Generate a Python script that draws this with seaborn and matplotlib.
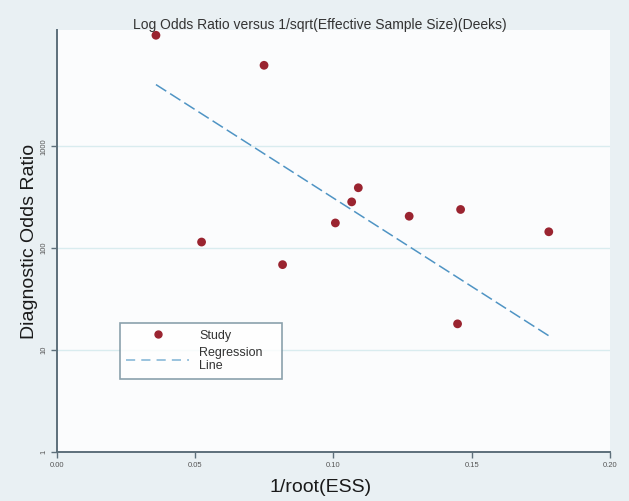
import numpy as np
import pandas as pd
import matplotlib
matplotlib.use("Agg")
from matplotlib import pyplot as plt
from matplotlib.lines import Line2D
import seaborn as sns

# values
inv_root_ess = [0.0358, 0.0749, 0.0523, 0.0816, 0.1007, 0.1066, 0.1090,
                0.1274, 0.1460, 0.1779, 0.1449]
diag_odds_ratio = [12300, 6240, 115, 69, 177, 285, 392, 206, 240, 145, 18.1]

# regression (log10 DOR on 1/root(ESS)) as drawn in the reference
reg_intercept = 4.227
reg_slope = -17.35

x_ticks = [0.00, 0.05, 0.10, 0.15, 0.20]
x_tick_labels = ["0.00", "0.05", "0.10", "0.15", "0.20"]
y_ticks = [1, 10, 100, 1000]
y_tick_labels = ["1", "10", "100", "1000"]

df = pd.DataFrame({"x": inv_root_ess, "dor": diag_odds_ratio})
line_x = np.array([min(inv_root_ess), max(inv_root_ess)])
reg_df = pd.DataFrame({"x": line_x, "dor": 10 ** (reg_intercept + reg_slope * line_x)})

sns.set_style("white")
plt.rcParams['font.family'] = ['Liberation Sans', 'DejaVu Sans']

fig = plt.figure(figsize=(6.29, 5.01), dpi=100, facecolor="#e9f0f3")
ax = fig.add_axes([0.0906, 0.0978, 0.879, 0.842])
ax.set_facecolor("#fbfcfd")

for yv in [10, 100, 1000]:
    ax.axhline(yv, color="#d9ecef", lw=1, zorder=0)

sns.lineplot(data=reg_df, x="x", y="dor", ax=ax, color="#4f94c4", lw=1.1,
             dashes=[(8, 3)], style=[0, 0], legend=False, zorder=2)
sns.scatterplot(data=df, x="x", y="dor", ax=ax, color="#9a2430", s=40,
                edgecolor="none", zorder=3)

ax.set_yscale("log")
ax.set_xlim(0, 0.2)
ax.set_ylim(1, 10 ** 4.14)
ax.set_xticks(x_ticks)
ax.set_xticklabels(x_tick_labels, fontsize=5.5, color="#555555")
ax.set_yticks(y_ticks)
ax.set_yticklabels(y_tick_labels, fontsize=5.5, color="#555555", rotation=90, va="center")
ax.minorticks_off()
ax.tick_params(axis="both", direction="out", length=4, width=1, color="#5d6f7a",
               bottom=True, left=True, pad=3)

for s in ["top", "right"]:
    ax.spines[s].set_visible(False)
for s in ["left", "bottom"]:
    ax.spines[s].set_color("#5d6f7a")
    ax.spines[s].set_linewidth(1.4)

ax.set_xlabel("1/root(ESS)", fontsize=14, color="#1a1a1a")
ax.set_ylabel("Diagnostic Odds Ratio", fontsize=14, color="#1a1a1a")
ax.xaxis.set_label_coords(0.477, -0.064)
ax.yaxis.set_label_coords(-0.034, 0.5)
ax.set_title("Log Odds Ratio versus 1/sqrt(Effective Sample Size)(Deeks)",
             fontsize=10, color="#333333", pad=1, x=0.475)

handles = [Line2D([], [], marker="o", ls="none", color="#9a2430", markersize=5),
           Line2D([], [], ls=(0, (6, 4)), color="#7fb3d5", lw=1.1)]
leg = ax.legend(handles, ["Study", "Regression\nLine"], loc="lower left",
                bbox_to_anchor=(0.103, 0.159, 0.315, 0.161), mode="expand",
                fontsize=9, frameon=True, fancybox=False, handlelength=5,
                borderpad=0.5, labelspacing=0.4)
leg.get_frame().set_edgecolor("#6f8a98")
leg.get_frame().set_linewidth(1.2)
for t in leg.get_texts():
    t.set_color("#333333")

fig.savefig("out.png", dpi=100, facecolor=fig.get_facecolor())
